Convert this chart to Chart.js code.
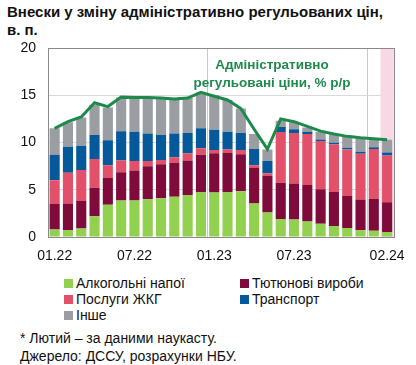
<!DOCTYPE html>
<html>
<head>
<meta charset="utf-8">
<script src="https://cdn.jsdelivr.net/npm/chart.js@4.4.1/dist/chart.umd.min.js"></script>
<style>
  body { margin:0; width:416px; height:365px; background:#fff; position:relative; overflow:hidden;
         font-family:'Liberation Sans', Arial, sans-serif; color:#111; }
  #title { position:absolute; left:7px; top:3px; font-weight:bold; font-size:15px; line-height:18px; }
  #wrap { position:absolute; left:0; top:38px; width:416px; height:232px; }
  #note { position:absolute; left:177px; top:56px; width:190px; text-align:center; color:#1E8A4E;
          font-weight:bold; font-size:13.5px; line-height:18px; }
  #legend { position:absolute; left:64px; top:275px; display:grid; grid-template-columns:176px auto;
            font-size:14px; line-height:16px; }
  #legend div { display:flex; align-items:center; white-space:nowrap; }
  #legend span { display:inline-block; width:9px; height:9px; margin-right:3px; }
  #foot { position:absolute; left:20px; top:329px; font-size:14px; line-height:18px; }
</style>
</head>
<body>
<div id="title">Внески у зміну адміністративно регульованих цін,<br>в. п.</div>
<div id="wrap"><canvas id="chart" width="416" height="232"></canvas></div>
<div id="note">Адміністративно<br>регульовані ціни, % р/р</div>
<div id="legend"></div>
<div id="foot">* Лютий – за даними наукасту.<br>Джерело: ДССУ, розрахунки НБУ.</div>
<script>
const months = ['01.22','02.22','03.22','04.22','05.22','06.22','07.22','08.22','09.22','10.22','11.22','12.22',
                '01.23','02.23','03.23','04.23','05.23','06.23','07.23','08.23','09.23','10.23','11.23','12.23',
                '01.24','02.24'];
const shownTicks = ['01.22','07.22','01.23','07.23','02.24'];

// contributions, p.p.
const alcohol   = [0.8, 0.75, 0.9, 2.2, 3.4, 3.85, 3.85, 4.0, 4.1, 4.25, 4.45, 4.75, 4.7, 4.75, 4.85, 3.55, 2.6, 1.9, 1.85, 1.65, 1.4, 1.17, 0.96, 0.71, 0.67, 0.53];
const tobacco   = [2.7, 2.8, 2.9, 3.0, 2.85, 3.0, 3.2, 3.5, 3.6, 3.6, 3.65, 3.95, 4.15, 4.15, 3.9, 3.75, 3.85, 3.85, 3.8, 3.85, 3.65, 3.6, 3.39, 3.27, 3.36, 3.15];
const utilities = [2.5, 3.25, 3.3, 3.05, 1.35, 1.25, 1.0, 0.55, 0.45, 0.6, 0.75, 0.7, 0.35, 0.35, 0.45, 0.3, 0.3, 5.35, 5.35, 5.4, 5.1, 5.03, 4.9, 4.82, 5.27, 4.95];
const transport = [2.7, 2.75, 2.55, 2.55, 2.65, 3.1, 3.1, 2.9, 2.65, 2.5, 2.15, 2.1, 2.15, 1.9, 1.8, 1.7, 1.3, 0.55, 0.4, 0.25, 0.17, 0.17, 0.2, 0.22, 0.2, 0.3];
const other     = [2.8, 2.6, 3.0, 3.2, 3.45, 3.55, 3.6, 3.8, 3.9, 3.65, 3.7, 3.8, 3.65, 3.35, 2.6, 1.6, 1.2, 0.65, 0.75, 0.45, 0.8, 0.9, 1.2, 1.48, 0.9, 1.35];
// administered prices, % y/y
const adminPrices = [11.5, 12.2, 12.7, 14.2, 13.8, 14.8, 14.75, 14.75, 14.7, 14.6, 14.7, 15.3, 14.9, 14.5, 13.6, 11.4, 9.3, 12.5, 12.2, 11.7, 11.2, 10.9, 10.65, 10.5, 10.4, 10.3];

const font = { family:"'Liberation Sans', Arial, sans-serif", size:14 };

// pink band for nowcast month + frame
const framePlugin = {
  id:'frame',
  beforeDatasetsDraw(chart) {
    const {ctx, chartArea, scales:{x}} = chart;
    const last = months.length - 1;
    const left = (x.getPixelForValue(last - 1) + x.getPixelForValue(last)) / 2;
    ctx.save();
    ctx.fillStyle = '#F8D8E4';
    ctx.fillRect(left, chartArea.top, chartArea.right - left, chartArea.bottom - chartArea.top);
    ctx.restore();
  },
  afterDraw(chart) {
    const {ctx, chartArea} = chart;
    ctx.save();
    ctx.strokeStyle = '#8a8a8a';
    ctx.lineWidth = 1;
    ctx.strokeRect(Math.round(chartArea.left) + 0.5, Math.round(chartArea.top) + 0.5,
                   Math.round(chartArea.right - chartArea.left), Math.round(chartArea.bottom - chartArea.top));
    ctx.restore();
  }
};

const bar = (label, data, color) => ({
  type:'bar', label, data, backgroundColor:color, stack:'parts', order:1,
  barPercentage:0.76, categoryPercentage:1
});

const chart = new Chart(document.getElementById('chart'), {
  type:'bar',
  data:{
    labels:months,
    datasets:[
      { type:'line', label:'Адміністративно регульовані ціни, % р/р', data:adminPrices, stack:'line', order:0,
        borderColor:'#1B8A4A', borderWidth:3, pointRadius:0, tension:0, fill:false },
      bar('Алкогольні напої', alcohol, '#92D050'),
      bar('Тютюнові вироби', tobacco, '#7E0B3A'),
      bar('Послуги ЖКГ', utilities, '#E2506A'),
      bar('Транспорт', transport, '#05599B'),
      bar('Інше', other, '#9A9EA3')
    ]
  },
  options:{
    responsive:false,
    animation:false,
    layout:{ padding:{ top:10, right:19, bottom:0, left:0 } },
    plugins:{ legend:{ display:false }, tooltip:{ enabled:false } },
    scales:{
      x:{
        stacked:true,
        afterFit:s => { s.height = 33; },
        grid:{ drawTicks:false, color:c => (c.index === 12 || c.index === 24) ? '#c8c8c8' : 'transparent' },
        border:{ display:false },
        ticks:{ autoSkip:false, maxRotation:0, padding:11, color:'#111', font,
                callback:(v, i) => shownTicks.includes(months[i]) ? months[i] : '' }
      },
      y:{
        stacked:true, min:0, max:20,
        afterFit:s => { s.width = 48; },
        // invisible tick marks keep the labels away from the axis without extra top padding
        grid:{ drawTicks:true, tickLength:12, tickColor:'transparent', color:'#d9d9d9' },
        border:{ display:false },
        ticks:{ stepSize:5, padding:0, color:'#111', font }
      }
    }
  },
  plugins:[framePlugin]
});

// legend from the bar datasets
const legend = document.getElementById('legend');
chart.data.datasets.filter(d => d.type === 'bar').forEach(d => {
  const item = document.createElement('div');
  item.innerHTML = '<span style="background:' + d.backgroundColor + '"></span>' + d.label;
  legend.appendChild(item);
});
</script>
</body>
</html>
